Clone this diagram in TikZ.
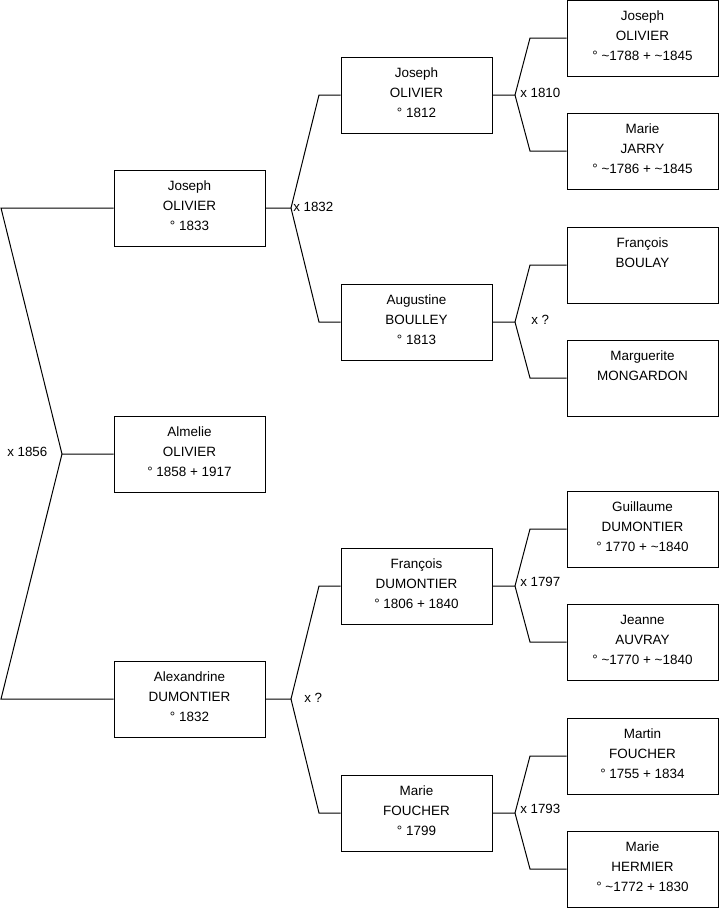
\documentclass[tikz,border=0pt]{standalone}
\usepackage{fontspec}
\setmainfont{Liberation Sans}
\tikzset{
  person/.style={draw, line width=0.75pt, minimum width=113.25pt, minimum height=57pt, inner sep=0pt},
  ptext/.style={anchor=north, inner sep=0pt, align=center, font=\fontsize{10.1pt}{15pt}\selectfont},
  link/.style={line width=0.75pt},
  marr/.style={anchor=west, inner sep=0pt, font=\fontsize{10pt}{12pt}\selectfont}
}
\newcommand{\persbox}[4]{%
  \node[person] (#1) at (#2,#3) {};
  \node[ptext] (#1t) at ([yshift=-8.5pt]#1.north) {#4};
}
\begin{document}
\begin{tikzpicture}[x=0.75pt,y=-0.75pt]
\useasboundingbox (0,0) rectangle (719,908);
% generation 1
\persbox{jo33}{189.5}{208}{Joseph\\OLIVIER\\° 1833}
\persbox{alm}{189.5}{454}{Almelie\\OLIVIER\\° 1858 + 1917}
\persbox{alx}{189.5}{699}{Alexandrine\\DUMONTIER\\° 1832}
% generation 2
\persbox{jo12}{416.5}{95}{Joseph\\OLIVIER\\° 1812}
\persbox{aug}{416.5}{322}{Augustine\\BOULLEY\\° 1813}
\persbox{fra}{416.5}{586}{François\\DUMONTIER\\° 1806 + 1840}
\persbox{mfo}{416.5}{813}{Marie\\FOUCHER\\° 1799}
% generation 3
\persbox{jo88}{642.5}{38}{Joseph\\OLIVIER\\° \textasciitilde 1788 + \textasciitilde 1845}
\persbox{mja}{642.5}{151}{Marie\\JARRY\\° \textasciitilde 1786 + \textasciitilde 1845}
\persbox{fbo}{642.5}{265}{François\\BOULAY}
\persbox{mmo}{642.5}{378}{Marguerite\\MONGARDON}
\persbox{gdu}{642.5}{529}{Guillaume\\DUMONTIER\\° 1770 + \textasciitilde 1840}
\persbox{jau}{642.5}{642}{Jeanne\\AUVRAY\\° \textasciitilde 1770 + \textasciitilde 1840}
\persbox{mar}{642.5}{756}{Martin\\FOUCHER\\° 1755 + 1834}
\persbox{mhe}{642.5}{869}{Marie\\HERMIER\\° \textasciitilde 1772 + 1830}
% marriage junctions
\coordinate (m0) at (62,454);
\coordinate (m1) at (291,208);
\coordinate (m2) at (515,95);
\coordinate (m3) at (515,322);
\coordinate (m4) at (291,699);
\coordinate (m5) at (515,586);
\coordinate (m6) at (515,813);
% connectors
\draw[link] (jo33.west) -- (1,208) -- (m0) -- (alm.west);
\draw[link] (m0) -- (1,699) -- (alx.west);
\draw[link] (jo33.east) -- (m1) -- (319,95) -- (jo12.west);
\draw[link] (m1) -- (319,322) -- (aug.west);
\draw[link] (alx.east) -- (m4) -- (319,586) -- (fra.west);
\draw[link] (m4) -- (319,813) -- (mfo.west);
\draw[link] (jo12.east) -- (m2) -- (530,38) -- (jo88.west);
\draw[link] (m2) -- (530,151) -- (mja.west);
\draw[link] (aug.east) -- (m3) -- (530,265) -- (fbo.west);
\draw[link] (m3) -- (530,378) -- (mmo.west);
\draw[link] (fra.east) -- (m5) -- (530,529) -- (gdu.west);
\draw[link] (m5) -- (530,642) -- (jau.west);
\draw[link] (mfo.east) -- (m6) -- (530,756) -- (mar.west);
\draw[link] (m6) -- (530,869) -- (mhe.west);
% marriage labels
\node[marr] (l0) at (7,452) {x 1856};
\node[marr] (l1) at (293,207) {x 1832};
\node[marr] (l2) at (520,93) {x 1810};
\node[marr] (l3) at (531,320) {x ?};
\node[marr] (l4) at (304,698) {x ?};
\node[marr] (l5) at (520,582) {x 1797};
\node[marr] (l6) at (520,809) {x 1793};
\end{tikzpicture}
\end{document}
